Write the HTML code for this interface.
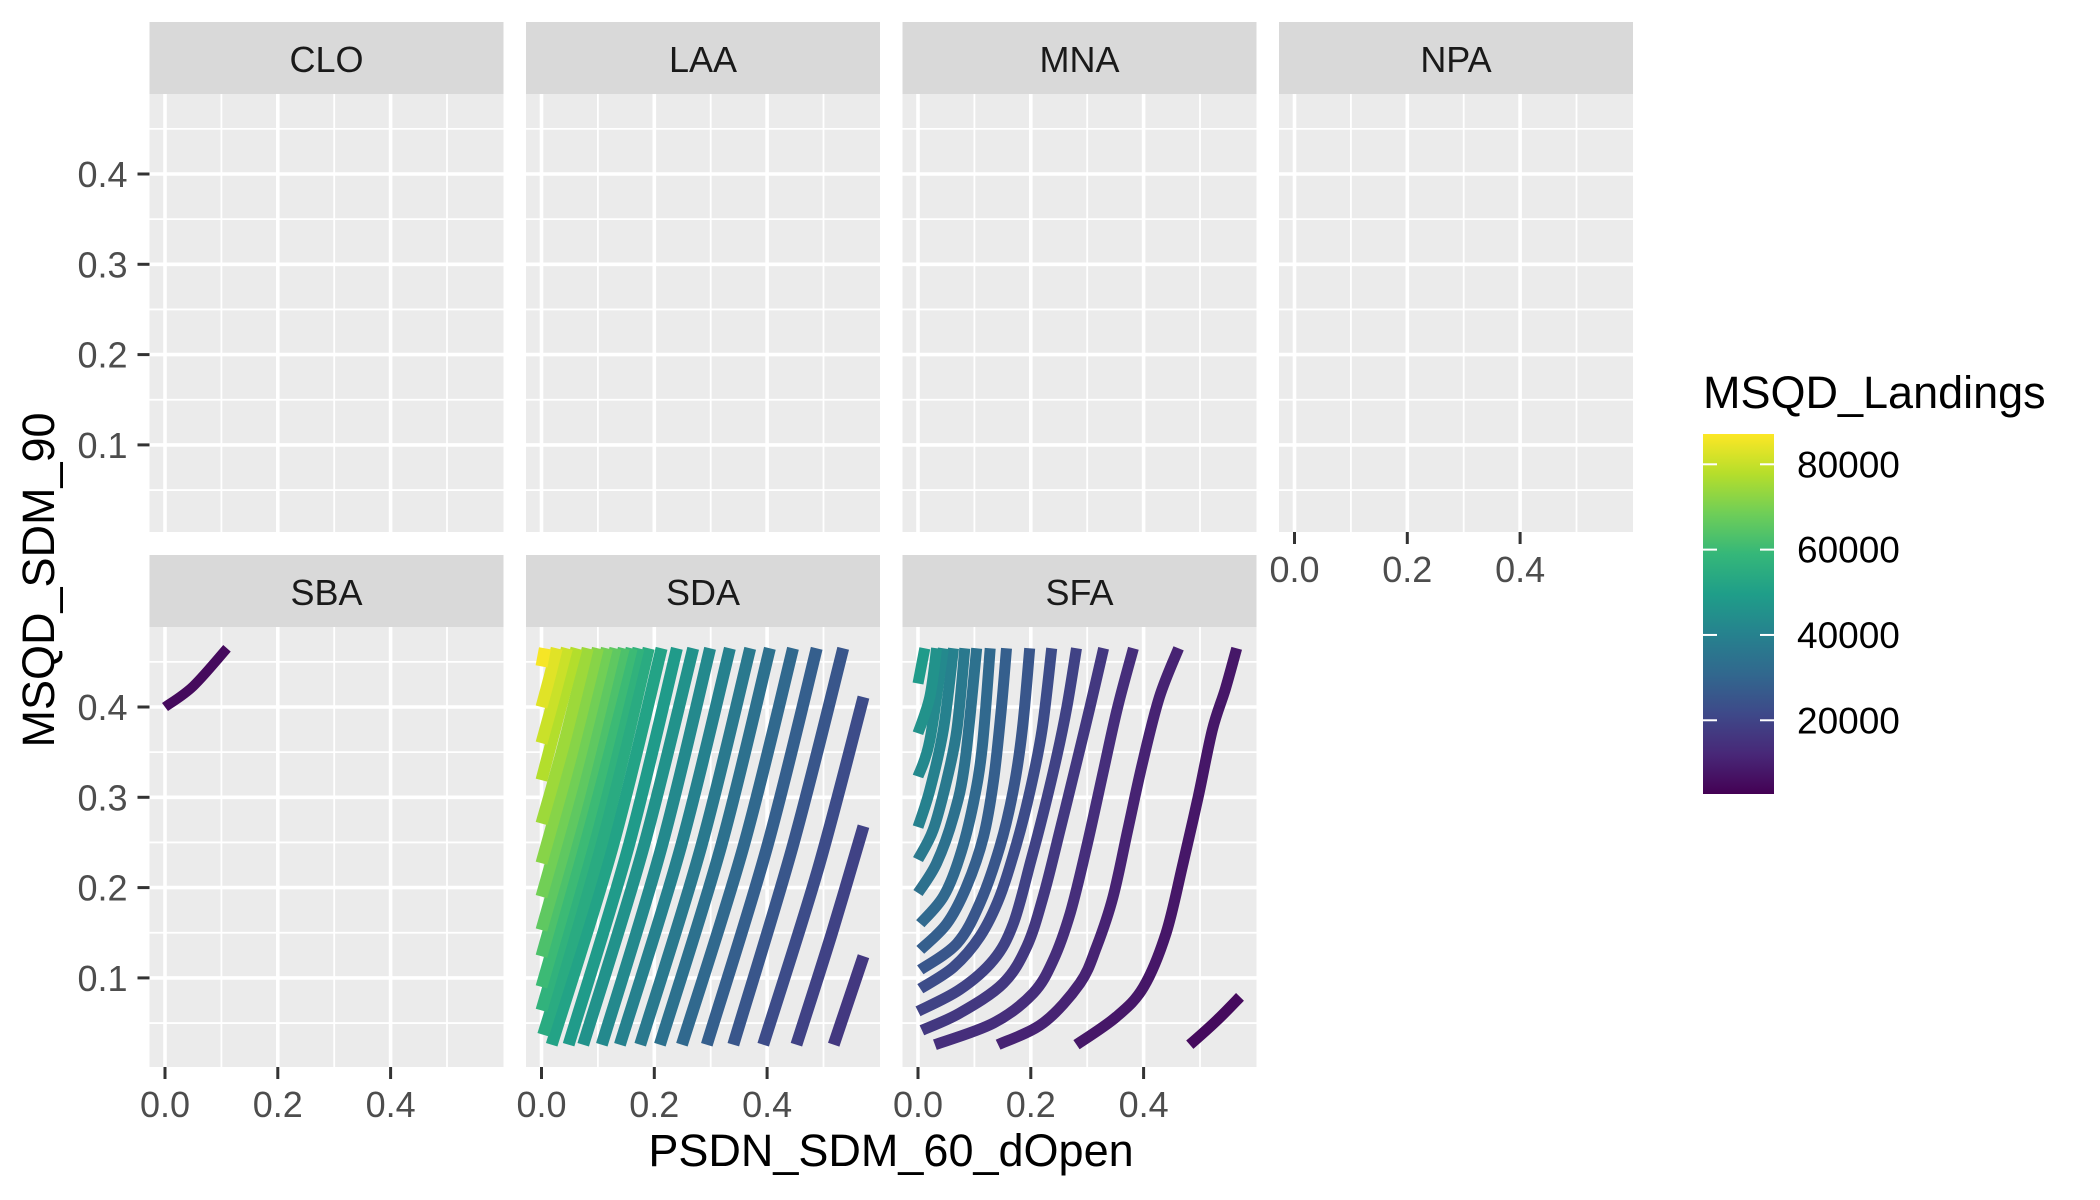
<!DOCTYPE html>
<html><head><meta charset="utf-8">
<style>
html,body{margin:0;padding:0;background:#fff;}
svg{display:block;font-family:"Liberation Sans",Arial,sans-serif;}
</style></head>
<body>
<svg id="chart" width="2100" height="1200" viewBox="0 0 2100 1200"></svg>
<script>
// ---- data ----
const panelNames = ["CLO","LAA","MNA","NPA","SBA","SDA","SFA"];
const xTickValues = [0.0, 0.2, 0.4];
const xTickLabels = ["0.0","0.2","0.4"];
const yTickValues = [0.1, 0.2, 0.3, 0.4];
const yTickLabels = ["0.1","0.2","0.3","0.4"];
const legendBreaks = [20000, 40000, 60000, 80000];
const legendLabels = ["20000","40000","60000","80000"];
const colorMin = 2720;
const colorMax = 87100;

const sbaLevels = [5000];
const sbaLines = [
  [[0.0,0.400],[0.05,0.423],[0.11,0.465]]
];

const sdaLevels = [16600,19500,22400,25300,28200,31100,34000,36900,39800,42700,45600,48500,51400,54300,
  57200,60100,63000,65900,68800,71700,74600,77500,80400,83300,86200];
const sdaLines = [
  [[0.518,0.026],[0.571,0.124]],
  [[0.452,0.026],[0.515,0.150],[0.571,0.268]],
  [[0.393,0.026],[0.490,0.220],[0.571,0.411]],
  [[0.340,0.026],[0.445,0.245],[0.535,0.465]],
  [[0.293,0.026],[0.400,0.245],[0.488,0.465]],
  [[0.249,0.026],[0.358,0.245],[0.446,0.465]],
  [[0.210,0.026],[0.318,0.245],[0.405,0.465]],
  [[0.175,0.026],[0.283,0.245],[0.370,0.465]],
  [[0.139,0.026],[0.247,0.245],[0.334,0.465]],
  [[0.107,0.026],[0.213,0.245],[0.299,0.465]],
  [[0.074,0.026],[0.181,0.245],[0.269,0.465]],
  [[0.048,0.026],[0.154,0.245],[0.240,0.465]],
  [[0.018,0.026],[0.126,0.245],[0.213,0.465]],
  [[0.003,0.037],[0.105,0.245],[0.190,0.465]],
  [[0.0,0.064],[0.090,0.260],[0.172,0.465]],
  [[0.0,0.090],[0.082,0.270],[0.160,0.465]],
  [[0.0,0.124],[0.074,0.290],[0.146,0.465]],
  [[0.0,0.153],[0.066,0.300],[0.131,0.465]],
  [[0.0,0.190],[0.058,0.320],[0.116,0.465]],
  [[0.0,0.227],[0.050,0.340],[0.100,0.465]],
  [[0.0,0.271],[0.040,0.360],[0.082,0.465]],
  [[0.0,0.319],[0.030,0.390],[0.062,0.465]],
  [[0.0,0.360],[0.022,0.410],[0.045,0.465]],
  [[0.0,0.400],[0.013,0.430],[0.027,0.465]],
  [[0.0,0.445],[0.006,0.465]]
];

const sfaLevels = [5000,7900,10800,13700,16600,19500,22400,25300,28200,31100,34000,36900,39800,42700,45600,48500];
const sfaLines = [
  [[0.482,0.026],[0.530,0.053],[0.571,0.079]],
  [[0.281,0.026],[0.352,0.057],[0.400,0.090],[0.440,0.150],[0.470,0.227],[0.497,0.301],[0.522,0.375],[0.545,0.420],[0.565,0.465]],
  [[0.142,0.026],[0.222,0.050],[0.287,0.094],[0.317,0.135],[0.346,0.190],[0.372,0.264],[0.398,0.338],[0.428,0.411],[0.462,0.465]],
  [[0.030,0.026],[0.134,0.050],[0.204,0.083],[0.240,0.120],[0.270,0.172],[0.299,0.245],[0.329,0.330],[0.354,0.400],[0.382,0.465]],
  [[0.007,0.042],[0.074,0.061],[0.151,0.094],[0.193,0.135],[0.222,0.190],[0.252,0.264],[0.281,0.338],[0.305,0.400],[0.329,0.465]],
  [[0.0,0.063],[0.074,0.087],[0.134,0.120],[0.169,0.160],[0.199,0.227],[0.222,0.282],[0.246,0.345],[0.264,0.400],[0.281,0.465]],
  [[0.004,0.088],[0.063,0.112],[0.110,0.146],[0.145,0.190],[0.175,0.249],[0.199,0.308],[0.220,0.375],[0.237,0.465]],
  [[0.004,0.109],[0.069,0.138],[0.110,0.183],[0.145,0.245],[0.169,0.308],[0.185,0.375],[0.198,0.465]],
  [[0.004,0.131],[0.051,0.160],[0.086,0.201],[0.116,0.256],[0.134,0.319],[0.147,0.393],[0.157,0.465]],
  [[0.004,0.160],[0.045,0.190],[0.074,0.234],[0.098,0.293],[0.114,0.356],[0.128,0.465]],
  [[0.0,0.194],[0.033,0.227],[0.063,0.279],[0.083,0.338],[0.104,0.465]],
  [[0.0,0.231],[0.027,0.264],[0.051,0.319],[0.069,0.375],[0.083,0.465]],
  [[0.0,0.267],[0.021,0.308],[0.045,0.375],[0.063,0.465]],
  [[0.0,0.323],[0.021,0.363],[0.045,0.465]],
  [[0.0,0.371],[0.021,0.411],[0.033,0.465]],
  [[0.0,0.426],[0.012,0.465]]
];

// ---- layout ----
const NS = "http://www.w3.org/2000/svg";
const svg = document.getElementById("chart");
const colLeft = [149.5, 526, 902.5, 1279];
const panelW = 354;
const rows = [{stripTop:22, top:94, bottom:532, y04:174},{stripTop:555, top:627, bottom:1067, y04:707}];
const pxPerUnit = 564, yPerUnit = 903, x0Offset = 15.5;

function el(tag, attrs, parent){
  const e = document.createElementNS(NS, tag);
  for (const k in attrs) e.setAttribute(k, attrs[k]);
  (parent||svg).appendChild(e);
  return e;
}
const viridis = ["#440154","#482878","#3e4989","#31688e","#26828e","#1f9e89","#35b779","#6ece58","#b5de2b","#fde725"];
function hex2rgb(h){return [parseInt(h.slice(1,3),16),parseInt(h.slice(3,5),16),parseInt(h.slice(5,7),16)];}
function colorFor(v){
  let t=(v-colorMin)/(colorMax-colorMin); t=Math.max(0,Math.min(1,t));
  const p=t*(viridis.length-1), i=Math.min(Math.floor(p),viridis.length-2), f=p-i;
  const a=hex2rgb(viridis[i]), b=hex2rgb(viridis[i+1]);
  return "rgb("+a.map((c,k)=>Math.round(c+(b[k]-c)*f)).join(",")+")";
}
function smoothPath(P){
  if (P.length < 3) return "M"+P.map(p=>p[0].toFixed(1)+" "+p[1].toFixed(1)).join(" L");
  let d = "M"+P[0][0].toFixed(1)+" "+P[0][1].toFixed(1);
  for (let i=0;i<P.length-1;i++){
    const p0=P[Math.max(i-1,0)], p1=P[i], p2=P[i+1], p3=P[Math.min(i+2,P.length-1)];
    const c1=[p1[0]+(p2[0]-p0[0])/6, p1[1]+(p2[1]-p0[1])/6];
    const c2=[p2[0]-(p3[0]-p1[0])/6, p2[1]-(p3[1]-p1[1])/6];
    d += " C"+c1[0].toFixed(1)+" "+c1[1].toFixed(1)+" "+c2[0].toFixed(1)+" "+c2[1].toFixed(1)+" "+p2[0].toFixed(1)+" "+p2[1].toFixed(1);
  }
  return d;
}

const defs = el("defs",{});
const panels = [];
panelNames.forEach((name, idx) => {
  const r = idx < 4 ? 0 : 1, c = idx % 4;
  const row = rows[r], left = colLeft[c];
  const xs = v => left + x0Offset + v*pxPerUnit;
  const ys = v => row.y04 + (0.4 - v)*yPerUnit;
  const g = el("g",{});
  
  
  const strip = el("rect",{x:left,y:row.stripTop,width:panelW,height:row.top-row.stripTop,fill:"#d9d9d9"},g);
  
  
  const st = el("text",{x:left+panelW/2,y:row.stripTop+50,"text-anchor":"middle","font-size":"36",fill:"#1a1a1a"},g);
  st.textContent = name;
  
  
  const bg = el("rect",{x:left,y:row.top,width:panelW,height:row.bottom-row.top,fill:"#ebebeb"},g);
  
  
  [0.05,0.15,0.25,0.35,0.45].forEach(v=>{const l=el("line",{x1:left,x2:left+panelW,y1:ys(v),y2:ys(v),stroke:"#fff","stroke-width":1.8},g);
    });
  [0.1,0.3,0.5].forEach(v=>{const l=el("line",{x1:xs(v),x2:xs(v),y1:row.top,y2:row.bottom,stroke:"#fff","stroke-width":1.8},g);
    });
  yTickValues.forEach(v=>{const l=el("line",{x1:left,x2:left+panelW,y1:ys(v),y2:ys(v),stroke:"#fff","stroke-width":3.6},g);
    });
  xTickValues.forEach(v=>{const l=el("line",{x1:xs(v),x2:xs(v),y1:row.top,y2:row.bottom,stroke:"#fff","stroke-width":3.6},g);
    });
  const cp = el("clipPath",{id:"clip"+idx},defs);
  el("rect",{x:left,y:row.top,width:panelW,height:row.bottom-row.top},cp);
  panels.push({g, xs, ys, idx});
  if (c === 0){
    yTickValues.forEach((v,i)=>{
      const t=el("line",{x1:left-12,x2:left,y1:ys(v),y2:ys(v),stroke:"#333","stroke-width":3},g);
      
      const tl=el("text",{x:left-22,y:ys(v)+13,"text-anchor":"end","font-size":"36",fill:"#4d4d4d"},g);
      tl.textContent=yTickLabels[i];
      
    });
  }
  if (r === 1 || name === "NPA"){
    xTickValues.forEach((v,i)=>{
      const t=el("line",{x1:xs(v),x2:xs(v),y1:row.bottom,y2:row.bottom+12,stroke:"#333","stroke-width":3},g);
      
      const tl=el("text",{x:xs(v),y:row.bottom+50,"text-anchor":"middle","font-size":"36",fill:"#4d4d4d"},g);
      tl.textContent=xTickLabels[i];
      
    });
  }
});

function drawLines(panelIdx, lines, levels, width){
  const p = panels[panelIdx];
  const lg = el("g",{"clip-path":"url(#clip"+panelIdx+")"},p.g);
  
  
  lines.forEach((pts,i)=>{
    const P = pts.map(q=>[p.xs(q[0]), p.ys(q[1])]);
    const path = el("path",{d:smoothPath(P),fill:"none",stroke:colorFor(levels[i]),"stroke-width":width,"stroke-linecap":"butt","stroke-linejoin":"round"},lg);
    
    
  });
}
drawLines(4, sbaLines, sbaLevels, 10);
drawLines(5, sdaLines, sdaLevels, 12);
drawLines(6, sfaLines, sfaLevels, 11);

const xt = el("text",{x:891,y:1166,"text-anchor":"middle","font-size":"45",fill:"#000"});
xt.textContent="PSDN_SDM_60_dOpen";

const yt = el("text",{x:0,y:0,"text-anchor":"middle","font-size":"45",fill:"#000",transform:"translate(54,580) rotate(-90)"});
yt.textContent="MSQD_SDM_90";


const lg = el("g",{});

const ltitle = el("text",{x:1703,y:408,"font-size":"45",fill:"#000"},lg);
ltitle.textContent="MSQD_Landings";

const grad = el("linearGradient",{id:"vir",x1:"0",y1:"1",x2:"0",y2:"0"},defs);
viridis.forEach((c,i)=>el("stop",{offset:(i/(viridis.length-1)),"stop-color":c},grad));
const barTop=434, barBot=794, barL=1703, barR=1774;
const bar = el("rect",{x:barL,y:barTop,width:barR-barL,height:barBot-barTop,fill:"url(#vir)"},lg);

const ly = v => barBot - (v-colorMin)/(colorMax-colorMin)*(barBot-barTop);
legendBreaks.forEach((v,i)=>{
  el("line",{x1:barL,x2:barL+14,y1:ly(v),y2:ly(v),stroke:"#fff","stroke-width":2},lg);
  el("line",{x1:barR-14,x2:barR,y1:ly(v),y2:ly(v),stroke:"#fff","stroke-width":2},lg);
  const t = el("text",{x:1797,y:ly(v)+13,"font-size":"37",fill:"#000"},lg);
  t.textContent = legendLabels[i];
  
});
</script>
</body></html>
